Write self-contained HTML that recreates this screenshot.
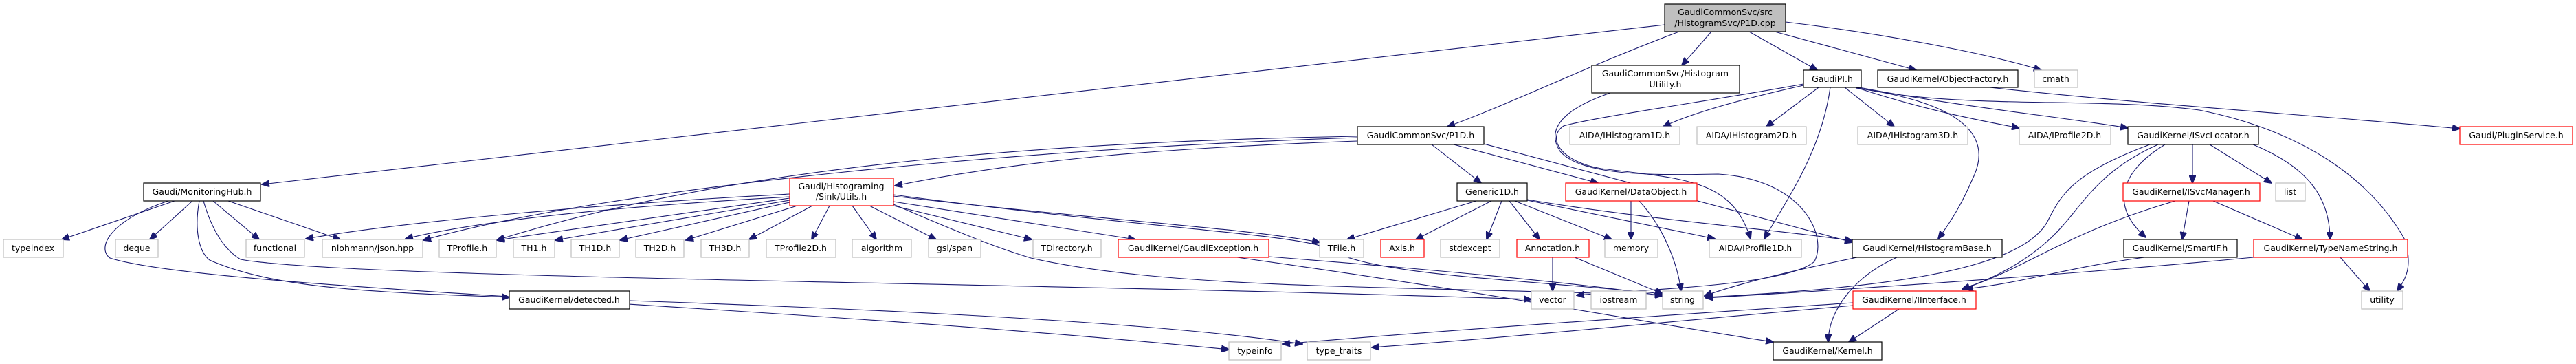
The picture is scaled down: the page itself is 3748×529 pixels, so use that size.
<!DOCTYPE html>
<html><head><meta charset="utf-8"><style>
html,body{margin:0;padding:0;background:#fff;}
svg{display:block;}
text{font-family:"DejaVu Sans","Liberation Sans",sans-serif;font-size:12.5px;fill:#000;text-anchor:middle;}
.e{fill:none;stroke:#191970;stroke-width:1.1;marker-end:url(#a);}
.b{stroke:#000;fill:#fff;stroke-width:1.2;}
.g{stroke:#bfbfbf;fill:#fff;stroke-width:1.2;}
.r{stroke:#ff0000;fill:#fff;stroke-width:1.2;}
</style></head><body>
<svg width="3748" height="529" viewBox="0 0 3748 529" xmlns="http://www.w3.org/2000/svg">
<defs><marker id="a" markerUnits="userSpaceOnUse" markerWidth="12" markerHeight="10" refX="11" refY="5" orient="auto"><path d="M0,0 L12,5 L0,10 z" fill="#191970" stroke="#191970"/></marker></defs>

<!-- edges -->
<g>
<path class="e" d="M2422,36 L381,268"/>
<path class="e" d="M2443,46 C2300,100 2200,150 2106,184"/>
<path class="e" d="M2490,46 L2447,95"/>
<path class="e" d="M2545,46 L2644,102"/>
<path class="e" d="M2582,46 L2788,102"/>
<path class="e" d="M2598,32 C2750,50 2900,80 2970,102"/>

<path class="e" d="M2624,124 C2530,145 2460,165 2420,184"/>
<path class="e" d="M2646,127 L2570,184"/>
<path class="e" d="M2684,127 L2756,184"/>
<path class="e" d="M2700,127 C2800,160 2880,175 2938,186"/>
<path class="e" d="M2705,127 C2850,155 3000,170 3096,186"/>
<path class="e" d="M2663,127 C2650,220 2600,290 2567,347"/>
<path class="e" d="M2624,122 C2500,145 2320,170 2275,183 C2250,200 2270,235 2330,245 C2450,260 2520,260 2547,347"/>
<path class="e" d="M2700,128 C2860,150 2900,200 2870,260 C2855,295 2840,320 2820,347"/>
<path class="e" d="M2700,127 C2850,160 3050,140 3200,160 C3350,190 3450,260 3500,350 C3510,390 3500,405 3488,423"/>
<path class="e" d="M2895,127 C3100,150 3400,170 3579,187"/>

<path class="e" d="M2343,135 C2270,160 2250,190 2270,220 C2300,255 2400,255 2500,253 C2620,260 2660,340 2640,380 C2600,415 2400,420 2294,429"/>

<path class="e" d="M1975,205 C1700,215 1500,230 1302,270"/>
<path class="e" d="M1975,198 C1600,205 1100,230 723,349"/>
<path class="e" d="M1975,200 C1500,215 900,270 616,349"/>
<path class="e" d="M2083,210 L2155,266"/>
<path class="e" d="M2115,210 L2325,266"/>
<path class="e" d="M2159,209 L2695,352"/>

<path class="e" d="M1149,282 C900,295 600,320 445,347"/>
<path class="e" d="M1149,286 C900,300 700,320 590,347"/>
<path class="e" d="M1149,288 L723,349"/>
<path class="e" d="M1149,291 L808,349"/>
<path class="e" d="M1149,294 L902,349"/>
<path class="e" d="M1160,299 L998,349"/>
<path class="e" d="M1182,299 L1090,348"/>
<path class="e" d="M1207,299 L1181,348"/>
<path class="e" d="M1240,299 L1275,348"/>
<path class="e" d="M1265,299 L1362,348"/>
<path class="e" d="M1300,299 L1501,348"/>
<path class="e" d="M1300,293 L1652,348"/>
<path class="e" d="M1300,285 C1600,320 1800,330 1920,352"/>
<path class="e" d="M1300,283 C1650,330 1880,340 1930,360 C1990,400 2200,405 2419,427"/>
<path class="e" d="M1300,297 C1400,340 1450,360 1500,375 C1700,420 2000,415 2419,429"/>

<path class="e" d="M254,292 L90,348"/>
<path class="e" d="M280,292 L218,348"/>
<path class="e" d="M310,292 L377,348"/>
<path class="e" d="M332,292 L495,348"/>
<path class="e" d="M245,292 C160,320 140,360 160,375 C300,420 1100,440 1788,508"/>
<path class="e" d="M290,292 C283,330 288,365 305,378 C400,420 550,425 741,432"/>
<path class="e" d="M296,292 C310,340 330,365 350,377 C500,405 1500,410 2228,435"/>

<path class="e" d="M916,437 C1300,450 1700,470 1895,500"/>
<path class="e" d="M1846,373 C2000,385 2300,410 2419,430"/>
<path class="e" d="M1800,374 C2200,430 2400,470 2580,497"/>

<path class="e" d="M2148,292 L1960,348"/>
<path class="e" d="M2170,292 L2060,348"/>
<path class="e" d="M2185,292 L2163,348"/>
<path class="e" d="M2196,292 L2240,348"/>
<path class="e" d="M2204,292 L2345,348"/>
<path class="e" d="M2222,291 L2495,347"/>
<path class="e" d="M2222,290 C2400,320 2600,335 2695,350"/>

<path class="e" d="M2259,374 L2259,423"/>
<path class="e" d="M2291,374 L2419,427"/>
<path class="e" d="M2373,292 L2373,348"/>
<path class="e" d="M2385,292 C2420,330 2440,380 2446,423"/>

<path class="e" d="M2702,374 C2650,385 2550,405 2480,430"/>
<path class="e" d="M2760,374 C2700,400 2660,450 2660,497"/>
<path class="e" d="M2763,449 L2690,497"/>
<path class="e" d="M2696,440 C2400,460 2100,480 1866,500"/>
<path class="e" d="M2696,444 C2400,470 2200,490 1996,505"/>

<path class="e" d="M3190,210 L3190,266"/>
<path class="e" d="M3215,210 L3305,266"/>
<path class="e" d="M3278,210 C3350,240 3390,280 3390,348"/>
<path class="e" d="M3128,210 C3020,250 3000,280 2980,320 C2940,400 2700,420 2482,432"/>
<path class="e" d="M3140,210 C3050,250 3030,300 2990,340 C2950,380 2900,405 2855,420"/>
<path class="e" d="M3150,210 C3100,240 3060,290 3122,345"/>
<path class="e" d="M3185,292 L3175,348"/>
<path class="e" d="M3220,292 L3350,348"/>
<path class="e" d="M3165,292 C3000,340 2950,390 2855,420"/>
<path class="e" d="M3120,374 C3000,390 2950,410 2860,420"/>
<path class="e" d="M3279,374 C3000,400 2700,420 2482,433"/>
<path class="e" d="M3405,374 L3448,423"/>
</g>

<!-- nodes -->
<rect x="2422" y="6" width="176" height="40" fill="#bfbfbf" stroke="#000" stroke-width="1.2"/>
<text x="2510" y="22">GaudiCommonSvc/src</text><text x="2510" y="38">/HistogramSvc/P1D.cpp</text>

<rect class="b" x="2316" y="95" width="215" height="40"/>
<text x="2423" y="111">GaudiCommonSvc/Histogram</text><text x="2423" y="127">Utility.h</text>
<rect class="b" x="2624" y="102" width="84" height="25"/><text x="2666" y="119">GaudiPI.h</text>
<rect class="b" x="2732" y="102" width="204" height="25"/><text x="2834" y="119">GaudiKernel/ObjectFactory.h</text>
<rect class="g" x="2960" y="102" width="63" height="25"/><text x="2991" y="119">cmath</text>

<rect class="b" x="1975" y="184" width="184" height="26"/><text x="2067" y="201">GaudiCommonSvc/P1D.h</text>
<rect class="g" x="2284" y="184" width="160" height="26"/><text x="2364" y="201">AIDA/IHistogram1D.h</text>
<rect class="g" x="2469" y="184" width="159" height="26"/><text x="2548" y="201">AIDA/IHistogram2D.h</text>
<rect class="g" x="2703" y="184" width="160" height="26"/><text x="2783" y="201">AIDA/IHistogram3D.h</text>
<rect class="g" x="2938" y="184" width="133" height="26"/><text x="3004" y="201">AIDA/IProfile2D.h</text>
<rect class="b" x="3096" y="184" width="190" height="26"/><text x="3191" y="201">GaudiKernel/ISvcLocator.h</text>
<rect class="r" x="3579" y="184" width="164" height="26"/><text x="3661" y="201">Gaudi/PluginService.h</text>

<rect class="b" x="209" y="266" width="170" height="26"/><text x="294" y="283">Gaudi/MonitoringHub.h</text>
<rect class="r" x="1149" y="259" width="151" height="40"/>
<text x="1224" y="275">Gaudi/Histograming</text><text x="1224" y="290">/Sink/Utils.h</text>
<rect class="b" x="2120" y="266" width="102" height="26"/><text x="2171" y="283">Generic1D.h</text>
<rect class="r" x="2278" y="266" width="191" height="26"/><text x="2373" y="283">GaudiKernel/DataObject.h</text>
<rect class="r" x="3089" y="266" width="199" height="26"/><text x="3188" y="283">GaudiKernel/ISvcManager.h</text>
<rect class="g" x="3311" y="266" width="43" height="26"/><text x="3332" y="283">list</text>

<rect class="g" x="5" y="348" width="87" height="26"/><text x="48" y="365">typeindex</text>
<rect class="g" x="168" y="348" width="62" height="26"/><text x="199" y="365">deque</text>
<rect class="g" x="358" y="348" width="85" height="26"/><text x="400" y="365">functional</text>
<rect class="g" x="469" y="348" width="146" height="26"/><text x="542" y="365">nlohmann/json.hpp</text>
<rect class="g" x="639" y="348" width="83" height="26"/><text x="680" y="365">TProfile.h</text>
<rect class="g" x="747" y="348" width="60" height="26"/><text x="777" y="365">TH1.h</text>
<rect class="g" x="831" y="348" width="70" height="26"/><text x="866" y="365">TH1D.h</text>
<rect class="g" x="925" y="348" width="70" height="26"/><text x="960" y="365">TH2D.h</text>
<rect class="g" x="1020" y="348" width="70" height="26"/><text x="1055" y="365">TH3D.h</text>
<rect class="g" x="1115" y="348" width="101" height="26"/><text x="1165" y="365">TProfile2D.h</text>
<rect class="g" x="1240" y="348" width="86" height="26"/><text x="1283" y="365">algorithm</text>
<rect class="g" x="1351" y="348" width="76" height="26"/><text x="1389" y="365">gsl/span</text>
<rect class="g" x="1503" y="348" width="99" height="26"/><text x="1552" y="365">TDirectory.h</text>
<rect class="r" x="1627" y="348" width="219" height="26"/><text x="1736" y="365">GaudiKernel/GaudiException.h</text>
<rect class="g" x="1920" y="348" width="64" height="26"/><text x="1952" y="365">TFile.h</text>
<rect class="r" x="2009" y="348" width="63" height="26"/><text x="2040" y="365">Axis.h</text>
<rect class="g" x="2096" y="348" width="86" height="26"/><text x="2139" y="365">stdexcept</text>
<rect class="r" x="2207" y="348" width="105" height="26"/><text x="2259" y="365">Annotation.h</text>
<rect class="g" x="2335" y="348" width="77" height="26"/><text x="2373" y="365">memory</text>
<rect class="g" x="2487" y="348" width="134" height="26"/><text x="2554" y="365">AIDA/IProfile1D.h</text>
<rect class="b" x="2695" y="348" width="218" height="26"/><text x="2804" y="365">GaudiKernel/HistogramBase.h</text>
<rect class="b" x="3090" y="348" width="165" height="26"/><text x="3172" y="365">GaudiKernel/SmartIF.h</text>
<rect class="r" x="3279" y="348" width="224" height="26"/><text x="3391" y="365">GaudiKernel/TypeNameString.h</text>

<rect class="b" x="741" y="423" width="175" height="26"/><text x="828" y="440">GaudiKernel/detected.h</text>
<rect class="g" x="2228" y="423" width="62" height="26"/><text x="2259" y="440">vector</text>
<rect class="g" x="2315" y="423" width="80" height="26"/><text x="2355" y="440">iostream</text>
<rect class="g" x="2419" y="423" width="59" height="26"/><text x="2448" y="440">string</text>
<rect class="r" x="2696" y="423" width="179" height="26"/><text x="2785" y="440">GaudiKernel/IInterface.h</text>
<rect class="g" x="3436" y="423" width="60" height="26"/><text x="3466" y="440">utility</text>

<rect class="g" x="1788" y="497" width="76" height="26"/><text x="1826" y="514">typeinfo</text>
<rect class="g" x="1902" y="497" width="92" height="26"/><text x="1948" y="514">type_traits</text>
<rect class="b" x="2580" y="497" width="158" height="26"/><text x="2659" y="514">GaudiKernel/Kernel.h</text>
</svg>
</body></html>
